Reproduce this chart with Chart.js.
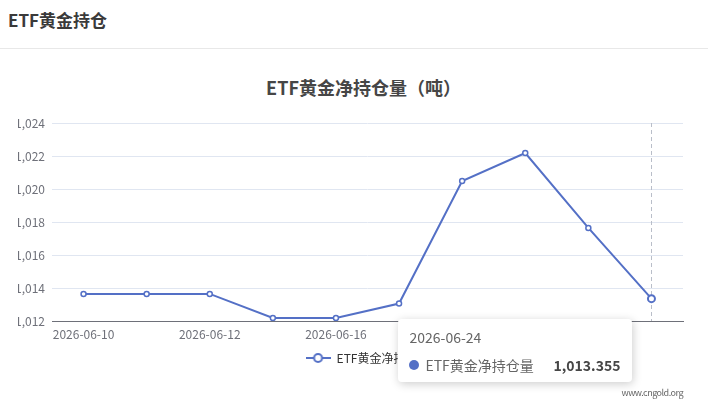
<!DOCTYPE html>
<html>
<head>
<meta charset="utf-8">
<script src="https://cdn.jsdelivr.net/npm/chart.js@4.4.1/dist/chart.umd.min.js"></script>
<style>
  body { margin: 0; width: 708px; height: 412px; background: #fff; position: relative; overflow: hidden;
         font-family: "Noto Sans CJK SC", "Noto Sans", sans-serif; }
  #hd { position: absolute; left: 8px; top: 8px; font-size: 17px; line-height: 24px; font-weight: bold; color: #3a3a3a; }
  #sep { position: absolute; left: 0; top: 48px; width: 708px; height: 1px; background: #e8e8e8; }
  #title { position: absolute; left: 0; top: 75px; width: 727px; text-align: center; font-size: 18px;
           line-height: 24px; font-weight: bold; color: #464646; }
  #wrap { position: absolute; left: 18px; top: 50px; width: 690px; height: 362px; overflow: hidden; }
  #myChart { position: absolute; left: -18px; top: 0; }
  #tip { position: absolute; width: 234px; height: 63px; box-sizing: border-box; background: #fff;
         border-radius: 4px; box-shadow: 1px 2px 10px rgba(0,0,0,0.2); padding: 0 12px 0 11px;
         font-size: 14px; color: #666; opacity: 0; }
  #tip .t { height: 36px; line-height: 36px; }
  #tip .r { display: flex; align-items: center; height: 16px; margin-top: 2px; }
  #tip .dot { width: 10px; height: 10px; border-radius: 5px; margin-right: 6px; }
  #tip .v { margin-left: auto; font-weight: bold; color: #464646; }
  #mark { position: absolute; right: 25px; top: 386px; font-size: 9px; line-height: 14px; color: #666;
          letter-spacing: -0.5px; }
</style>
</head>
<body>
<div id="hd">ETF黄金持仓</div>
<div id="sep"></div>
<div id="title">ETF黄金净持仓量（吨）</div>
<div id="wrap"><canvas id="myChart" width="708" height="362"></canvas></div>
<div id="tip"></div>
<div id="mark">www.cngold.org</div>
<script>
const dates = ["2026-06-10", "2026-06-11", "2026-06-12", "2026-06-15", "2026-06-16",
               "2026-06-17", "2026-06-18", "2026-06-22", "2026-06-23", "2026-06-24"];
const holdings = [1013.64, 1013.64, 1013.64, 1012.18, 1012.18, 1013.06, 1020.48, 1022.18, 1017.64, 1013.355];
const seriesName = "ETF黄金净持仓量";
const yMin = 1012;
const yMax = 1024;
const yStep = 2;
const hoverIndex = 9;

const blue = "#5470c6";
const fmt = (v) => v.toLocaleString("en-US", { maximumFractionDigits: 3 });

// legend icon: line with hollow circle
const icon = document.createElement("canvas");
icon.width = 25;
icon.height = 14;
const ic = icon.getContext("2d");
ic.strokeStyle = blue;
ic.lineWidth = 2;
ic.beginPath();
ic.moveTo(0, 7);
ic.lineTo(25, 7);
ic.stroke();
ic.beginPath();
ic.arc(12.5, 7, 4, 0, Math.PI * 2);
ic.fillStyle = "#fff";
ic.fill();
ic.stroke();

const pointerLine = {
  id: "pointerLine",
  beforeDatasetsDraw(chart) {
    const act = chart.getActiveElements();
    if (!act.length) return;
    const x = act[0].element.x;
    const ctx = chart.ctx;
    ctx.save();
    ctx.strokeStyle = "#b9bec9";
    ctx.lineWidth = 1;
    ctx.setLineDash([4, 3]);
    ctx.beginPath();
    ctx.moveTo(Math.round(x) + 0.5, chart.chartArea.top);
    ctx.lineTo(Math.round(x) + 0.5, chart.chartArea.bottom);
    ctx.stroke();
    ctx.restore();
  }
};

// the legend sits a bit right of the plot centre in the original
const legendShift = {
  id: "legendShift",
  afterLayout(chart) {
    chart.legend.left += 26;
    chart.legend.right += 26;
  }
};

function externalTip(context) {
  const tip = context.tooltip;
  const el = document.getElementById("tip");
  if (tip.opacity === 0) {
    el.style.opacity = 0;
    return;
  }
  const dp = tip.dataPoints[0];
  el.innerHTML =
    '<div class="t">' + tip.title[0] + '</div>' +
    '<div class="r"><span class="dot" style="background:' + blue + '"></span>' +
    '<span>' + dp.dataset.label + '</span><span class="v">' + fmt(dp.raw) + '</span></div>';
  el.style.left = (tip.caretX - 253) + "px";
  el.style.top = (tip.caretY + 50 + 20) + "px";
  el.style.opacity = 1;
}

const ctx = document.getElementById("myChart");
const chart = new Chart(ctx, {
  type: "line",
  data: {
    labels: dates,
    datasets: [
      {
        label: seriesName,
        data: holdings,
        borderColor: blue,
        backgroundColor: "#fff",
        borderWidth: 2,
        pointRadius: 2.5,
        pointBorderWidth: 1.5,
        pointBackgroundColor: "#fff",
        pointBorderColor: blue,
        pointHoverRadius: 3.5,
        pointHoverBorderWidth: 2,
        pointHoverBackgroundColor: "#fff",
        pointHoverBorderColor: blue,
        tension: 0,
      },
    ],
  },
  options: {
    responsive: false,
    animation: false,
    layout: { padding: { left: 0, right: 25, top: 73, bottom: 38 } },
    interaction: { mode: "index", intersect: false },
    scales: {
      x: {
        offset: true,
        grid: { display: false, drawTicks: false },
        border: { display: true, color: "#6e7079", width: 1 },
        ticks: {
          autoSkip: false,
          maxRotation: 0,
          padding: 6,
          color: "#6e7079",
          font: { size: 12, family: "'Noto Sans CJK SC', sans-serif" },
          callback: (v, i) => (i % 2 === 0 ? dates[i] : ""),
        },
        afterFit: (s) => { s.height = 20; },
      },
      y: {
        min: yMin,
        max: yMax,
        grid: { color: "#e0e6f1", drawTicks: false },
        border: { display: false },
        ticks: {
          stepSize: yStep,
          padding: 7,
          color: "#6e7079",
          font: { size: 12, family: "'Noto Sans CJK SC', sans-serif" },
          callback: (v) => fmt(v),
        },
        afterFit: (s) => { s.width = 52; },
      },
    },
    plugins: {
      legend: {
        position: "bottom",
        labels: {
          padding: 11,
          usePointStyle: true,
          pointStyleWidth: 25,
          color: "#333",
          font: { size: 12, family: "'Noto Sans CJK SC', sans-serif" },
          generateLabels: (c) =>
            c.data.datasets.map((d, i) => ({
              text: d.label,
              pointStyle: icon,
              datasetIndex: i,
              fontColor: "#333",
              lineWidth: 0,
              strokeStyle: blue,
              fillStyle: "#fff",
            })),
        },
      },
      tooltip: { enabled: false, external: externalTip },
    },
  },
  plugins: [pointerLine, legendShift],
});

const act = [{ datasetIndex: 0, index: hoverIndex }];
chart.setActiveElements(act);
const el = chart.getDatasetMeta(0).data[hoverIndex];
chart.tooltip.setActiveElements(act, { x: el.x, y: el.y });
chart.update();
</script>
</body>
</html>
